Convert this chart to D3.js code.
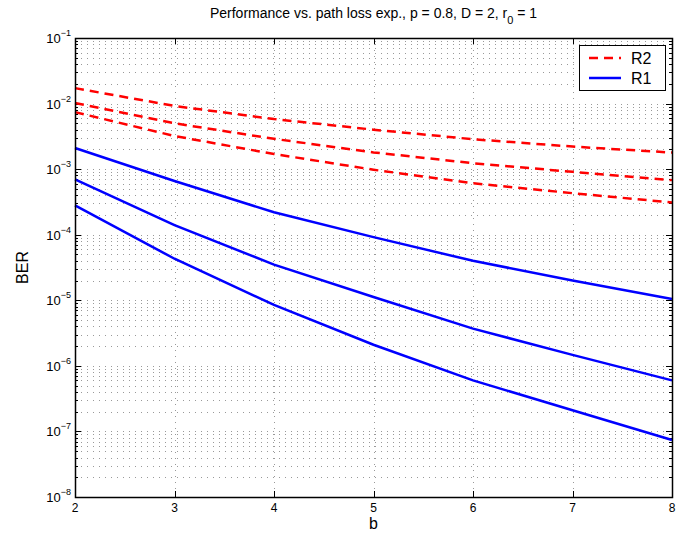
<!DOCTYPE html>
<html>
<head>
<meta charset="utf-8">
<script src="https://cdn.jsdelivr.net/npm/d3@7"></script>
<style>
  body { margin: 0; background: #fff; }
  text { font-family: "Liberation Sans", Arial, sans-serif; }
</style>
</head>
<body>
<div id="wrapper"></div>
<script>
const bValues = [2, 3, 4, 5, 6, 7, 8]

// R2 (red dashed) curves
const r2Top = [0.0172, 0.0092, 0.0058, 0.0040, 0.00286, 0.00221, 0.00179]
const r2Mid = [0.0102, 0.0050, 0.0029, 0.00180, 0.00123, 0.00091, 0.00068]
const r2Low = [0.0074, 0.0032, 0.0017, 0.00098, 0.00061, 0.00043, 0.00031]

// R1 (blue solid) curves
const r1Top = [0.0021, 0.00066, 0.00022, 0.000092, 0.000040, 0.000020, 0.0000105]
const r1Mid = [0.00070, 0.00014, 0.000035, 0.0000112, 0.0000037, 0.00000147, 0.00000060]
const r1Low = [0.00028, 0.000043, 0.0000085, 0.0000021, 0.00000060, 0.00000021, 0.000000074]

const yDecades = [-8, -7, -6, -5, -4, -3, -2, -1]
const xTicks = [2, 3, 4, 5, 6, 7, 8]

const series = [
  {name: "R2", color: "#ff0000", dash: "9,6", values: r2Top},
  {name: "R2", color: "#ff0000", dash: "9,6", values: r2Mid},
  {name: "R2", color: "#ff0000", dash: "9,6", values: r2Low},
  {name: "R1", color: "#0000ff", dash: null, values: r1Top},
  {name: "R1", color: "#0000ff", dash: null, values: r1Mid},
  {name: "R1", color: "#0000ff", dash: null, values: r1Low},
]

const dimensions = {
  width: 694,
  height: 533,
  margin: {top: 38, right: 22, bottom: 36, left: 75}
}
dimensions.boundedWidth = dimensions.width - dimensions.margin.left - dimensions.margin.right
dimensions.boundedHeight = dimensions.height - dimensions.margin.top - dimensions.margin.bottom

const wrapper = d3.select("#wrapper")
  .append("svg")
    .attr("width", dimensions.width)
    .attr("height", dimensions.height)

const bounds = wrapper.append("g")
    .attr("transform", `translate(${dimensions.margin.left},${dimensions.margin.top})`)

const xScale = d3.scaleLinear()
    .domain([2, 8])
    .range([0, dimensions.boundedWidth])

const yScale = d3.scaleLog()
    .domain([1e-8, 1e-1])
    .range([dimensions.boundedHeight, 0])

// minor + major log values
const logValues = []
yDecades.slice(0, -1).forEach(e => {
  for (let m = 1; m < 10; m++) logValues.push(m * Math.pow(10, e))
})
logValues.push(1e-1)

// grid
const grid = bounds.append("g")
grid.selectAll(".hgrid")
  .data(logValues.filter(v => v > 1e-8 && v < 1e-1))
  .enter().append("line")
    .attr("x1", 0)
    .attr("x2", dimensions.boundedWidth)
    .attr("y1", d => Math.round(yScale(d)) + 0.5)
    .attr("y2", d => Math.round(yScale(d)) + 0.5)
    .attr("stroke", "#999")
    .attr("stroke-width", 1)
    .attr("stroke-dasharray", "1,5")

grid.selectAll(".vgrid")
  .data(xTicks.slice(1, -1))
  .enter().append("line")
    .attr("x1", d => Math.round(xScale(d)) + 0.5)
    .attr("x2", d => Math.round(xScale(d)) + 0.5)
    .attr("y1", 0)
    .attr("y2", dimensions.boundedHeight)
    .attr("stroke", "#999")
    .attr("stroke-width", 1)
    .attr("stroke-dasharray", "1,5")

// ticks (inside, both sides)
const ticks = bounds.append("g").attr("stroke", "#000").attr("stroke-width", 1)
logValues.forEach(v => {
  const isMajor = Math.abs(Math.log10(v) - Math.round(Math.log10(v))) < 1e-9
  const len = isMajor ? 6 : 3
  const y = Math.round(yScale(v)) + 0.5
  ticks.append("line").attr("x1", 0).attr("x2", len).attr("y1", y).attr("y2", y)
  ticks.append("line").attr("x1", dimensions.boundedWidth - len).attr("x2", dimensions.boundedWidth).attr("y1", y).attr("y2", y)
})
xTicks.forEach(v => {
  const x = Math.round(xScale(v)) + 0.5
  ticks.append("line").attr("x1", x).attr("x2", x).attr("y1", dimensions.boundedHeight).attr("y2", dimensions.boundedHeight - 6)
  ticks.append("line").attr("x1", x).attr("x2", x).attr("y1", 0).attr("y2", 6)
})

// lines
const lineGenerator = d3.line()
    .x((d, i) => xScale(bValues[i]))
    .y(d => yScale(d))

bounds.selectAll(".series")
  .data(series)
  .enter().append("path")
    .attr("d", d => lineGenerator(d.values))
    .attr("fill", "none")
    .attr("stroke", d => d.color)
    .attr("stroke-width", 2.5)
    .attr("stroke-dasharray", d => d.dash)

// frame
bounds.append("rect")
    .attr("x", 0.5)
    .attr("y", 0.5)
    .attr("width", dimensions.boundedWidth)
    .attr("height", dimensions.boundedHeight)
    .attr("fill", "none")
    .attr("stroke", "#000")
    .attr("stroke-width", 1.5)

// x tick labels
bounds.selectAll(".xlabel")
  .data(xTicks)
  .enter().append("text")
    .attr("x", d => xScale(d))
    .attr("y", dimensions.boundedHeight + 15)
    .attr("text-anchor", "middle")
    .style("font-size", "12px")
    .text(d => d)

// y tick labels 10^e
const yLabels = bounds.selectAll(".ylabel")
  .data(yDecades)
  .enter().append("text")
    .attr("x", -4)
    .attr("y", d => yScale(Math.pow(10, d)) + 5)
    .attr("text-anchor", "end")
    .style("font-size", "13px")
yLabels.append("tspan").text("10")
yLabels.append("tspan")
    .attr("dy", -7)
    .style("font-size", "9px")
    .text(d => "\u2212" + (-d))

// axis titles
wrapper.append("text")
    .attr("x", dimensions.margin.left + dimensions.boundedWidth / 2)
    .attr("y", 529)
    .attr("text-anchor", "middle")
    .style("font-size", "16px")
    .text("b")

wrapper.append("text")
    .attr("transform", `translate(28, ${dimensions.margin.top + dimensions.boundedHeight / 2}) rotate(-90)`)
    .attr("text-anchor", "middle")
    .style("font-size", "16px")
    .text("BER")

// title
const title = wrapper.append("text")
    .attr("x", dimensions.margin.left + dimensions.boundedWidth / 2)
    .attr("y", 18)
    .attr("text-anchor", "middle")
    .style("font-size", "14px")
title.append("tspan").text("Performance vs. path loss exp., p = 0.8, D = 2, r")
title.append("tspan").attr("dy", 6).style("font-size", "11px").text("0")
title.append("tspan").attr("dy", -6).text(" = 1")

// legend
const legend = bounds.append("g")
    .attr("transform", `translate(${dimensions.boundedWidth - 93}, 7)`)
legend.append("rect")
    .attr("x", 0.5)
    .attr("y", 0.5)
    .attr("width", 86)
    .attr("height", 45)
    .attr("fill", "#fff")
    .attr("stroke", "#000")
    .attr("stroke-width", 1)

const legendItems = [series[0], series[3]]
legendItems.forEach((s, i) => {
  const y = 13 + i * 20
  legend.append("line")
      .attr("x1", 10)
      .attr("x2", 42)
      .attr("y1", y)
      .attr("y2", y)
      .attr("stroke", s.color)
      .attr("stroke-width", 2.5)
      .attr("stroke-dasharray", s.dash)
  legend.append("text")
      .attr("x", 52)
      .attr("y", y + 6)
      .style("font-size", "16px")
      .text(s.name)
})
</script>
</body>
</html>
